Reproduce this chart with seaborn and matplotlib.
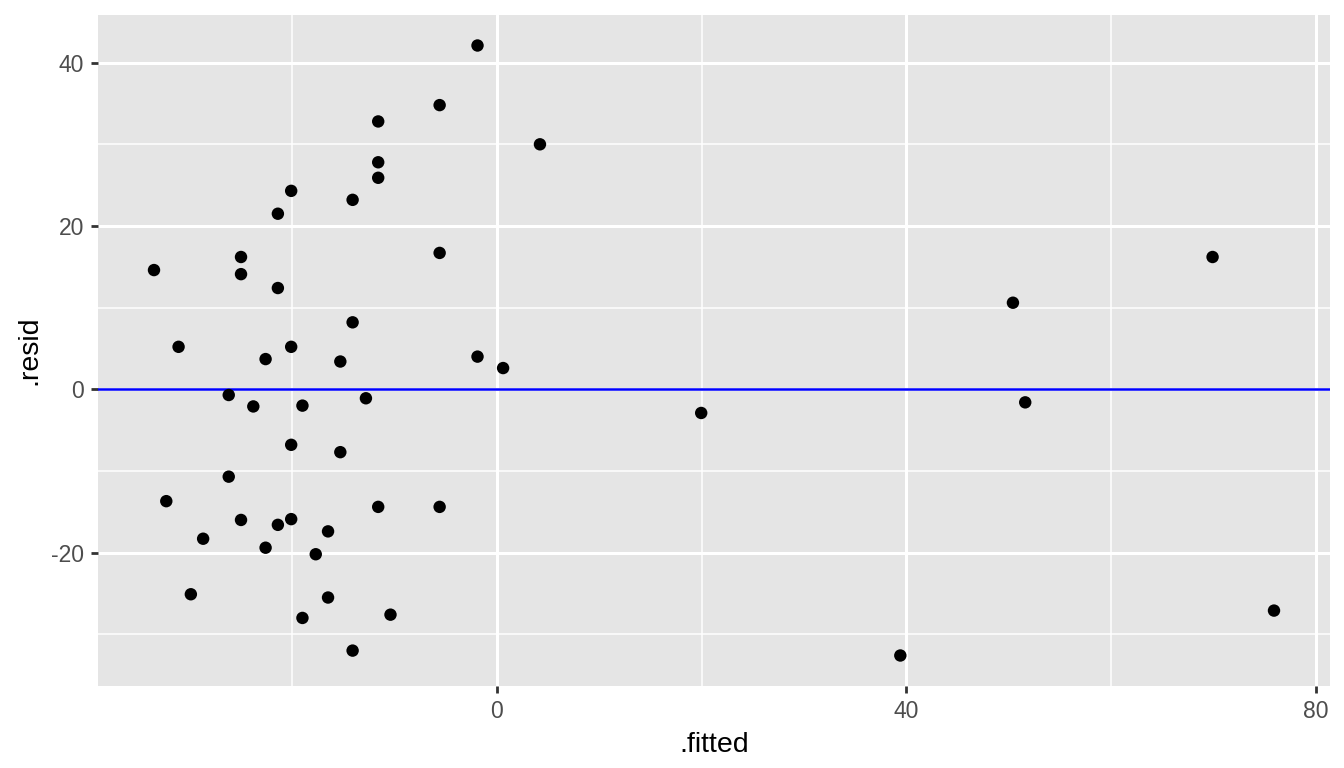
import matplotlib
matplotlib.use('Agg')
import matplotlib.pyplot as plt
from matplotlib.ticker import FixedLocator
import seaborn as sns
import pandas as pd

# residuals vs fitted values
fitted = [-1.9, -5.6, -11.6, 4.2, -11.6, -11.6, -20.1, -14.1, -21.4, -5.6,
          -25.0, 69.9, -33.5, -25.0, -21.4, 50.4, -14.1, -31.1, -20.1, -22.6,
          -15.3, -1.9, 0.6, -26.2, -23.8, -12.8, -19.0, 51.6, 19.95, -20.1,
          -15.3, -26.2, -32.3, -11.6, -5.6, -25.0, -20.1, -21.4, -16.5, -28.7,
          -22.6, -17.7, -29.9, -16.5, -10.4, -19.0, -14.1, 39.4, 75.9]
resid = [42.1, 34.8, 32.8, 30.0, 27.8, 25.9, 24.3, 23.2, 21.5, 16.7,
         16.2, 16.2, 14.6, 14.1, 12.4, 10.6, 8.2, 5.2, 5.2, 3.7,
         3.4, 4.0, 2.6, -0.7, -2.1, -1.1, -2.0, -1.6, -2.9, -6.8,
         -7.7, -10.7, -13.7, -14.4, -14.4, -16.0, -15.9, -16.6, -17.4, -18.3,
         -19.4, -20.2, -25.1, -25.5, -27.6, -28.0, -32.0, -32.6, -27.1]

x_breaks = [0, 40, 80]
x_minor = [-20, 20, 60]
y_breaks = [-20, 0, 20, 40]
y_minor = [-30, -10, 10, 30]

df = pd.DataFrame({'.fitted': fitted, '.resid': resid})

sns.set_style('darkgrid', {'axes.facecolor': '#E5E5E5', 'grid.color': 'white'})
plt.rcParams['font.family'] = ['Liberation Sans', 'DejaVu Sans']
plt.rcParams['axes.unicode_minus'] = False

fig = plt.figure(figsize=(13.44, 7.68), dpi=100, facecolor='white')
ax = fig.add_axes([98 / 1344, 82 / 768, (1330 - 98) / 1344, (753 - 82) / 768])

ax.axhline(0, color='#0000FF', linewidth=1.8, zorder=2)
sns.scatterplot(data=df, x='.fitted', y='.resid', ax=ax, color='black',
                s=80, edgecolor='none', linewidth=0, zorder=3)

# ggplot-like expansion of 5%
xr = max(fitted) - min(fitted)
yr = max(resid) - min(resid)
ax.set_xlim(min(fitted) - 0.05 * xr, max(fitted) + 0.05 * xr)
ax.set_ylim(min(resid) - 0.05 * yr, max(resid) + 0.05 * yr)

ax.xaxis.set_major_locator(FixedLocator(x_breaks))
ax.xaxis.set_minor_locator(FixedLocator(x_minor))
ax.yaxis.set_major_locator(FixedLocator(y_breaks))
ax.yaxis.set_minor_locator(FixedLocator(y_minor))
ax.grid(which='major', color='white', linewidth=2.2)
ax.grid(which='minor', color='white', linewidth=1.1)
ax.set_axisbelow(True)

for spine in ax.spines.values():
    spine.set_visible(False)

ax.tick_params(which='major', length=5.2, width=2.0, color='#333333',
               labelsize=16.5, labelcolor='#4D4D4D', pad=5,
               bottom=True, left=True)
ax.tick_params(which='minor', length=0)

ax.set_xlabel('.fitted', fontsize=20.5, color='black', labelpad=6)
ax.set_ylabel('.resid', fontsize=20.5, color='black', labelpad=6)

fig.savefig('out.png', dpi=100, facecolor='white')
plt.close(fig)
